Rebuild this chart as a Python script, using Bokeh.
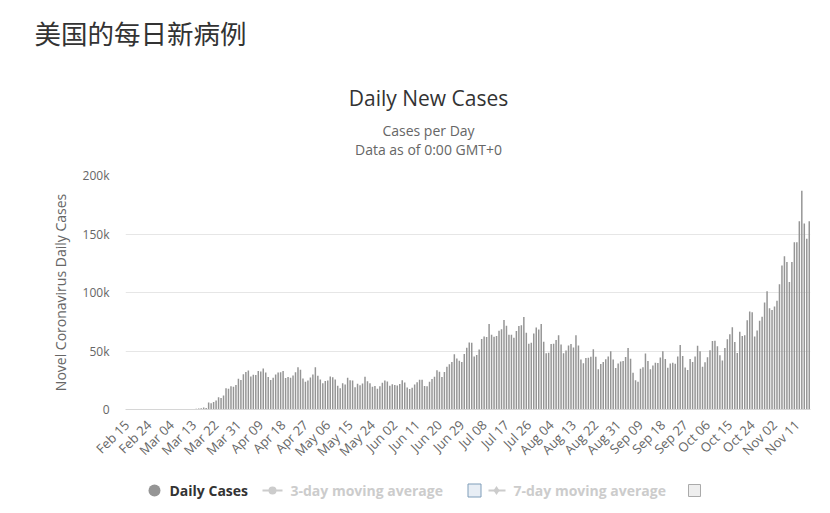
import math
import pandas as pd
from bokeh.plotting import figure
from bokeh.models import Range1d, FixedTicker, ColumnDataSource
from bokeh.embed import file_html
from bokeh.resources import INLINE
from bokeh.core.properties import value

# ---------------- data ----------------
start_date = "2020-02-15"
feb_cases = [0, 0, 0, 0, 0, 1, 2, 0, 0, 18, 0, 0, 1, 0, 6]
mar_cases = [8, 23, 20, 31, 68, 45, 140, 116, 65, 376, 322, 382, 516, 548, 772, 1133,
             1789, 1362, 5894, 5423, 6389, 7787, 10571, 9893, 12038, 18058, 17821,
             19821, 19408, 20922, 26341]
apr_cases = [25200, 30081, 32133, 33264, 28219, 29595, 29556, 32829, 32385, 35098,
             31610, 27730, 25316, 27051, 29919, 31606, 31835, 32922, 26885, 27844,
             27120, 28993, 31917, 36025, 33977, 26521, 23812, 24828, 27442, 29917]
may_cases = [36007, 28904, 25600, 22506, 24386, 24710, 28305, 27524, 25612, 20236,
             18196, 22403, 21305, 27213, 24982, 24891, 19044, 22013, 20620, 22265,
             27993, 24182, 22536, 19475, 20079, 17760, 19880, 22800, 24700, 23900, 20400]
jun_cases = [21500, 21000, 20600, 21900, 25000, 23000, 18700, 17500, 18600, 21300,
             23300, 25400, 25400, 20100, 19900, 23800, 26000, 28000, 33500, 32300,
             27800, 32100, 36500, 38700, 40500, 47300, 43500, 41600, 40700, 47500]
jul_cases = [52800, 57200, 57000, 45300, 46600, 51300, 60200, 62500, 61900, 73000,
             63900, 62100, 62900, 67400, 68500, 76500, 71600, 63900, 63800, 61300,
             67100, 71300, 72000, 79000, 65700, 56100, 57000, 65000, 70000, 68400, 73000]
aug_cases = [58000, 48000, 48600, 55900, 56100, 59500, 63500, 55500, 48100, 50400,
             54700, 55900, 52900, 63500, 54600, 42800, 39500, 44000, 44200, 45000,
             51500, 45100, 34500, 38800, 40600, 43000, 45200, 49800, 42700, 35500, 39400]
sep_cases = [41000, 41400, 44800, 52600, 43400, 31400, 25000, 23700, 34900, 36200,
             47800, 41500, 34500, 37600, 39900, 39800, 44400, 49700, 43100, 35600,
             39400, 39900, 39200, 45300, 55100, 45700, 35800, 33700, 43200, 40600]
oct_cases = [45400, 54500, 49700, 36600, 40400, 44700, 50600, 58600, 58800, 54000,
             46300, 41800, 52500, 60000, 64400, 70400, 57700, 48300, 66500, 62800,
             63400, 76200, 83700, 83200, 62400, 67500, 75800, 79300, 91500, 101000, 86500]
nov_cases = [85000, 88000, 93000, 107000, 123000, 131000, 126000, 109000, 126000,
             143000, 143000, 161000, 187000, 159000, 146000, 161000]

daily_cases = (feb_cases + mar_cases + apr_cases + may_cases + jun_cases + jul_cases
               + aug_cases + sep_cases + oct_cases + nov_cases)

tick_labels = ["Feb 15", "Feb 24", "Mar 04", "Mar 13", "Mar 22", "Mar 31", "Apr 09",
               "Apr 18", "Apr 27", "May 06", "May 15", "May 24", "Jun 02", "Jun 11",
               "Jun 20", "Jun 29", "Jul 08", "Jul 17", "Jul 26", "Aug 04", "Aug 13",
               "Aug 22", "Aug 31", "Sep 09", "Sep 18", "Sep 27", "Oct 06", "Oct 15",
               "Oct 24", "Nov 02", "Nov 11"]
y_ticks = [0, 50000, 100000, 150000, 200000]
y_tick_labels = ["0", "50k", "100k", "150k", "200k"]

chart_heading = "美国的每日新病例"
chart_title = "Daily New Cases"
subtitle_1 = "Cases per Day"
subtitle_2 = "Data as of 0:00 GMT+0"
y_title = "Novel Coronavirus Daily Cases"
legend_labels = ["Daily Cases", "3-day moving average", "7-day moving average"]

# ---------------- build ----------------
start = pd.Timestamp(start_date)
dates = pd.date_range(start, periods=len(daily_cases), freq="D")
src = ColumnDataSource(dict(x=list(range(len(daily_cases))), cases=daily_cases,
                            date=[d.strftime("%b %d") for d in dates]))
tick_pos = [(pd.to_datetime(t + " 2020", format="%b %d %Y") - start).days for t in tick_labels]

FONT = "Open Sans"
W = 830
H_HEAD = 160
H_MAIN = 312
H_LEG = 41
BAR_COLOR = "#959595"


def blank_figure(height, top):
    f = figure(width=W, height=height, output_backend="svg", toolbar_location=None,
               x_range=Range1d(0, W), y_range=Range1d(top + height, top),
               x_axis_location=None, y_axis_location=None, min_border=0)
    f.grid.grid_line_color = None
    f.outline_line_color = None
    f.background_fill_color = "white"
    f.border_fill_color = "white"
    return f


# ---- header (titles) ----
head = blank_figure(H_HEAD, 0)
head.text(x=[34], y=[32], text=[chart_heading], text_font=value("Noto Sans CJK SC"),
          text_font_size="26.5px", text_color="#333333", text_baseline="middle",
          text_align="left")
head.text(x=[428], y=[97], text=[chart_title], text_font=value(FONT),
          text_font_size="21px", text_color="#333333", text_baseline="middle",
          text_align="center")
head.text(x=[428, 428], y=[130, 149], text=[subtitle_1, subtitle_2],
          text_font=value(FONT), text_font_size="14px", text_color="#666666",
          text_baseline="middle", text_align="center")

# ---- main chart ----
p = figure(width=W, height=H_MAIN, output_backend="svg", toolbar_location=None,
           x_range=Range1d(-0.5, len(daily_cases) - 0.5), y_range=Range1d(0, 200000),
           min_border_left=125, min_border_right=20, min_border_top=15,
           min_border_bottom=63)
p.outline_line_color = None
p.background_fill_color = "white"
p.border_fill_color = "white"

p.vbar(x="x", top="cases", width=0.6, source=src, fill_color=BAR_COLOR,
       line_color=None)

p.xgrid.grid_line_color = None
p.ygrid.grid_line_color = "#e6e6e6"
p.ygrid.grid_line_width = 1

p.yaxis.ticker = FixedTicker(ticks=y_ticks)
p.yaxis.major_label_overrides = {t: l for t, l in zip(y_ticks, y_tick_labels)}
p.yaxis.axis_line_color = None
p.yaxis.major_tick_line_color = None
p.yaxis.minor_tick_line_color = None
p.yaxis.major_tick_out = 0
p.yaxis.major_tick_in = 0
p.yaxis.major_label_standoff = 16
p.yaxis.major_label_text_font = FONT
p.yaxis.major_label_text_font_size = "12px"
p.yaxis.major_label_text_color = "#666666"
p.yaxis.axis_label = y_title
p.yaxis.axis_label_text_font = FONT
p.yaxis.axis_label_text_font_size = "14px"
p.yaxis.axis_label_text_font_style = "normal"
p.yaxis.axis_label_text_color = "#666666"
p.yaxis.axis_label_standoff = 10

p.xaxis.ticker = FixedTicker(ticks=tick_pos)
p.xaxis.major_label_overrides = {t: l for t, l in zip(tick_pos, tick_labels)}
p.xaxis.major_label_orientation = math.pi / 4
p.xaxis.axis_line_color = "#d6d6d6"
p.xaxis.major_tick_line_color = None
p.xaxis.minor_tick_line_color = None
p.xaxis.major_tick_out = 0
p.xaxis.major_tick_in = 0
p.xaxis.major_label_standoff = 13
p.xaxis.major_label_text_font = FONT
p.xaxis.major_label_text_font_size = "13px"
p.xaxis.major_label_text_color = "#666666"

# ---- legend row ----
top_leg = H_HEAD + H_MAIN
lg = blank_figure(H_LEG, top_leg)
ly = 490
lg.scatter(x=[154], y=[ly], size=12, marker="circle", fill_color=BAR_COLOR, line_color=None)
lg.text(x=[169], y=[ly], text=[legend_labels[0]], text_font=value(FONT),
        text_font_size="14px", text_font_style="bold", text_color="#333333",
        text_baseline="middle")

lg.line(x=[262, 282], y=[ly, ly], line_color="#cccccc", line_width=2)
lg.scatter(x=[272], y=[ly], size=8, marker="circle", fill_color="#cccccc", line_color=None)
lg.text(x=[290], y=[ly], text=[legend_labels[1]], text_font=value(FONT),
        text_font_size="14px", text_font_style="bold", text_color="#cccccc",
        text_baseline="middle")
lg.rect(x=[474], y=[ly], width=13, height=13, fill_color="#e8eef5",
        line_color="#7f9db9", line_width=1)

lg.line(x=[488, 505], y=[ly, ly], line_color="#cccccc", line_width=2)
lg.scatter(x=[496], y=[ly], size=9, marker="diamond", fill_color="#cccccc", line_color=None)
lg.text(x=[513], y=[ly], text=[legend_labels[2]], text_font=value(FONT),
        text_font_size="14px", text_font_style="bold", text_color="#cccccc",
        text_baseline="middle")
lg.rect(x=[694], y=[ly], width=12, height=12, fill_color="#eeeeee",
        line_color="#aaaaaa", line_width=1)

open("out.html", "w").write(file_html([head, p, lg], INLINE))
